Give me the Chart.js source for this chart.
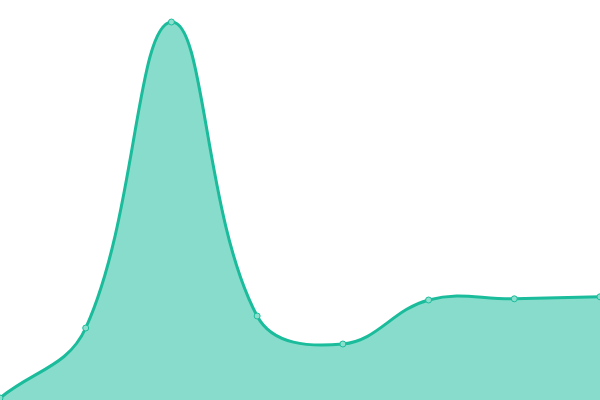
<!DOCTYPE html>
<html>
<head>
<meta charset="utf-8">
<script src="https://cdn.jsdelivr.net/npm/chart.js@4"></script>
<style>
  html, body { margin: 0; padding: 0; background: #fff; }
  #wrap { width: 600px; height: 400px; }
</style>
</head>
<body>
<div id="wrap"><canvas id="areaChart"></canvas></div>
<script>
// values, y scale 0..100
const labels = ["1", "2", "3", "4", "5", "6", "7", "8"];
const values = [0.5, 18, 94.5, 21, 14, 25, 25.3, 25.8];

const data = {
  labels: labels,
  datasets: [
    {
      data: values,
      fill: true,
      borderColor: "rgb(26, 188, 156)",
      backgroundColor: "rgba(26, 188, 156, 0.52)",
      borderWidth: 3,
      tension: 0.4,
      pointRadius: 3,
      pointBorderWidth: 1,
      pointBackgroundColor: "rgba(140, 222, 205, 1)",
      pointBorderColor: "rgb(26, 188, 156)",
    },
  ],
};

const config = {
  type: "line",
  data: data,
  options: {
    responsive: true,
    maintainAspectRatio: false,
    animation: false,
    layout: { padding: 0, autoPadding: false },
    plugins: {
      legend: { display: false },
      tooltip: { enabled: false },
    },
    scales: {
      x: { display: false },
      y: { display: false, min: 0, max: 100 },
    },
  },
};

window.onload = function () {
  const ctx = document.getElementById("areaChart").getContext("2d");
  const areaChart = new Chart(ctx, config);
};
</script>
</body>
</html>
